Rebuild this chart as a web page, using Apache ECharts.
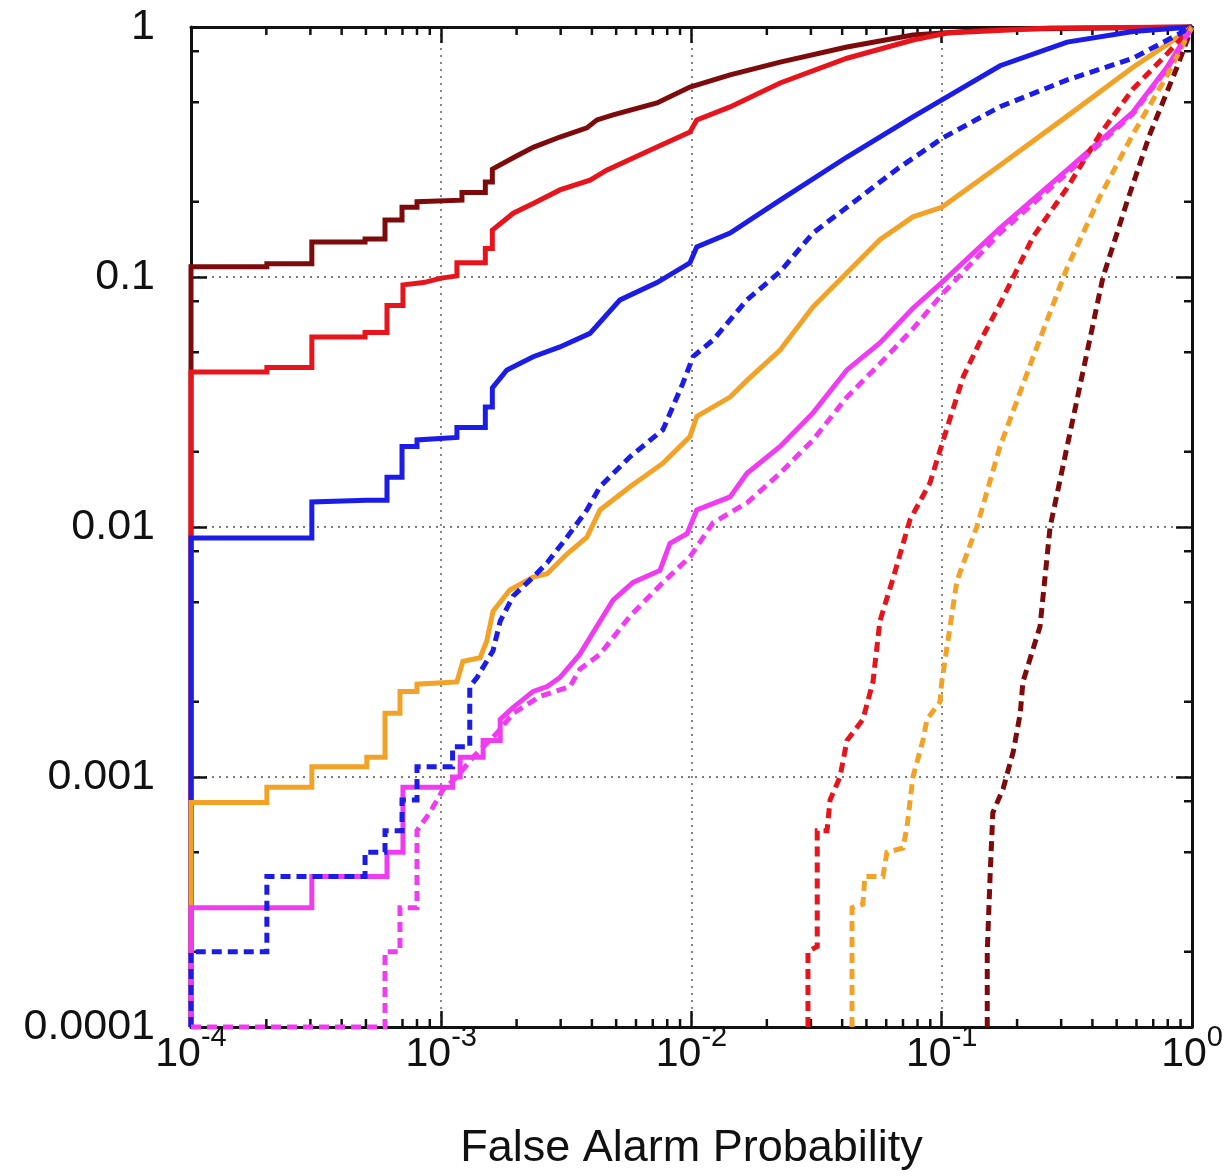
<!DOCTYPE html>
<html>
<head>
<meta charset="utf-8">
<script src="https://cdn.jsdelivr.net/npm/echarts@6/dist/echarts.min.js"></script>
<style>
html,body{margin:0;padding:0;background:#fff;}
#chart{width:1228px;height:1176px;}
</style>
</head>
<body>
<div id="chart"></div>
<script>
// ---------------- data ----------------
const xExpLabels = ['-4', '-3', '-2', '-1', '0'];
const yTickLabels = ['0.0001', '0.001', '0.01', '0.1', '1'];
const xAxisTitle = 'False Alarm Probability';

const decades = [-4, -3, -2, -1];
const xMinorMultipliers = [2, 3, 4, 5, 6, 7, 8, 9];
const yMinorMultipliers = [2, 5, 8];

const darkRedSolid = [
  [1e-4,1e-4],[1e-4,0.11],[2.01e-4,0.11],[2.01e-4,0.113],[3.04e-4,0.113],[3.04e-4,0.138],
  [4.96e-4,0.138],[4.96e-4,0.142],[5.96e-4,0.142],[5.96e-4,0.169],[6.97e-4,0.169],[6.97e-4,0.19],
  [8.0e-4,0.19],[8.0e-4,0.2],[1.21e-3,0.203],[1.21e-3,0.218],[1.5e-3,0.218],[1.5e-3,0.24],
  [1.6e-3,0.24],[1.6e-3,0.27],[1.94e-3,0.30],[2.33e-3,0.33],[2.98e-3,0.363],[3.82e-3,0.395],
  [4.19e-3,0.425],[4.86e-3,0.445],[7.28e-3,0.497],[9.86e-3,0.575],[0.01426,0.643],[0.0226,0.724],
  [0.0418,0.832],[0.0767,0.929],[0.171,0.98],[1,1]
];
const redSolid = [
  [1e-4,1e-4],[1e-4,0.0417],[2.01e-4,0.0417],[2.01e-4,0.0435],[3.04e-4,0.0435],[3.04e-4,0.0575],
  [4.96e-4,0.0575],[4.96e-4,0.06],[6.07e-4,0.06],[6.07e-4,0.077],[7.03e-4,0.077],[7.03e-4,0.093],
  [8.5e-4,0.095],[1.0e-3,0.099],[1.155e-3,0.101],[1.155e-3,0.114],[1.5e-3,0.114],[1.5e-3,0.13],
  [1.6e-3,0.13],[1.6e-3,0.154],[1.94e-3,0.18],[2.33e-3,0.197],[2.98e-3,0.223],[3.93e-3,0.244],
  [4.6e-3,0.268],[7.28e-3,0.331],[9.86e-3,0.38],[0.0105,0.425],[0.01426,0.479],[0.0226,0.597],
  [0.0418,0.75],[0.0767,0.887],[0.105,0.946],[0.271,0.99],[1,1]
];
const blueSolid = [
  [1e-4,1e-4],[1e-4,0.00904],[3.04e-4,0.00904],[3.04e-4,0.0126],[5.04e-4,0.0128],[6.07e-4,0.0128],
  [6.07e-4,0.0158],[6.97e-4,0.0158],[6.97e-4,0.021],[8.0e-4,0.021],[8.0e-4,0.0223],[1.155e-3,0.0228],
  [1.155e-3,0.025],[1.5e-3,0.025],[1.5e-3,0.0302],[1.6e-3,0.0302],[1.6e-3,0.036],[1.83e-3,0.0425],
  [2.33e-3,0.048],[2.98e-3,0.0525],[3.93e-3,0.0595],[5.18e-3,0.081],[7.28e-3,0.095],[9.86e-3,0.114],
  [0.0105,0.132],[0.01426,0.15],[0.0226,0.203],[0.0418,0.302],[0.0767,0.437],[0.105,0.525],
  [0.171,0.70],[0.317,0.87],[0.581,0.96],[1,1]
];
const orangeSolid = [
  [1e-4,1e-4],[1e-4,7.9e-4],[2.01e-4,7.9e-4],[2.01e-4,9.1e-4],[3.04e-4,9.1e-4],[3.04e-4,1.1e-3],
  [5.04e-4,1.1e-3],[5.04e-4,1.2e-3],[5.96e-4,1.2e-3],[5.96e-4,1.8e-3],[6.84e-4,1.8e-3],[6.84e-4,2.2e-3],
  [8.0e-4,2.2e-3],[8.0e-4,2.35e-3],[1.155e-3,2.4e-3],[1.22e-3,2.9e-3],[1.43e-3,3.0e-3],[1.52e-3,3.5e-3],
  [1.61e-3,4.6e-3],[1.88e-3,5.6e-3],[2.33e-3,6.3e-3],[2.65e-3,6.5e-3],[3.18e-3,7.8e-3],[3.82e-3,9.1e-3],
  [4.31e-3,0.0117],[5.68e-3,0.0145],[7.69e-3,0.018],[9.86e-3,0.023],[0.0105,0.0277],[0.01426,0.0331],
  [0.01667,0.0386],[0.0226,0.051],[0.0306,0.076],[0.0418,0.104],[0.0566,0.141],[0.0767,0.174],
  [0.1,0.19],[0.171,0.28],[0.317,0.44],[0.581,0.69],[0.794,0.85],[1,1]
];
const magentaSolid = [
  [1e-4,1e-4],[1e-4,3.0e-4],[3.04e-4,3.0e-4],[3.04e-4,4.0e-4],[6.07e-4,4.0e-4],[6.07e-4,5e-4],
  [7.03e-4,5e-4],[7.03e-4,9.1e-4],[1.11e-3,9.1e-4],[1.11e-3,1.0e-3],[1.19e-3,1.0e-3],[1.19e-3,1.2e-3],
  [1.47e-3,1.2e-3],[1.47e-3,1.4e-3],[1.72e-3,1.4e-3],[1.72e-3,1.7e-3],[1.94e-3,1.9e-3],[2.33e-3,2.2e-3],
  [2.65e-3,2.3e-3],[2.98e-3,2.5e-3],[3.58e-3,3.1e-3],[4.31e-3,4.2e-3],[4.86e-3,5.1e-3],[5.84e-3,6.0e-3],
  [7.48e-3,6.7e-3],[8.2e-3,8.6e-3],[9.6e-3,9.4e-3],[0.0105,0.0117],[0.01426,0.0132],[0.01667,0.0164],
  [0.0226,0.021],[0.0306,0.0286],[0.0418,0.0425],[0.0566,0.0545],[0.0767,0.075],[0.1,0.095],
  [0.171,0.157],[0.317,0.268],[0.581,0.457],[0.794,0.69],[1,1]
];
const darkRedDashed = [
  [0.152,1e-4],[0.152,2e-4],[0.156,4e-4],[0.160,7.2e-4],[0.176,9e-4],[0.193,1.26e-3],[0.206,1.8e-3],
  [0.211,2.4e-3],[0.247,4e-3],[0.271,0.01],[0.317,0.021],[0.367,0.042],[0.441,0.1],[0.55,0.2],
  [0.679,0.373],[0.871,0.69],[1,1]
];
const redDashed = [
  [0.0292,1e-4],[0.0292,2.0e-4],[0.0318,2.1e-4],[0.0318,6.1e-4],[0.0348,6.1e-4],[0.0358,8.1e-4],
  [0.0392,1e-3],[0.0418,1.4e-3],[0.0484,1.7e-3],[0.0531,2.4e-3],[0.0566,4.2e-3],[0.0638,6.2e-3],
  [0.0747,0.0107],[0.0897,0.015],[0.101,0.022],[0.122,0.04],[0.142,0.055],[0.171,0.078],
  [0.232,0.145],[0.317,0.227],[0.429,0.373],[0.581,0.565],[0.794,0.78],[1,1]
];
const orangeDashed = [
  [0.0438,1e-4],[0.0438,3e-4],[0.0484,3.1e-4],[0.0493,4e-4],[0.0582,4e-4],[0.0604,5e-4],[0.07,5.2e-4],
  [0.0726,6.3e-4],[0.0767,1e-3],[0.0841,1.4e-3],[0.0873,1.7e-3],[0.0984,2e-3],[0.1,2.4e-3],
  [0.115,6.1e-3],[0.138,0.01],[0.171,0.021],[0.232,0.048],[0.317,0.109],[0.429,0.21],[0.581,0.373],
  [0.794,0.637],[1,1]
];
const blueDashed = [
  [1e-4,1e-4],[1e-4,2e-4],[2.01e-4,2e-4],[2.01e-4,4.0e-4],[4.96e-4,4.0e-4],[4.96e-4,5e-4],[5.96e-4,5e-4],
  [5.96e-4,6.1e-4],[6.97e-4,6.1e-4],[6.97e-4,8.1e-4],[8.0e-4,8.1e-4],[8.0e-4,1.1e-3],[1.11e-3,1.1e-3],
  [1.11e-3,1.32e-3],[1.30e-3,1.32e-3],[1.30e-3,2.3e-3],[1.39e-3,2.5e-3],[1.61e-3,3.2e-3],[1.72e-3,4.2e-3],
  [1.94e-3,5.3e-3],[2.33e-3,6.3e-3],[2.65e-3,7.2e-3],[3.18e-3,9.1e-3],[3.82e-3,0.0117],[4.31e-3,0.0145],
  [5.68e-3,0.0191],[7.69e-3,0.0245],[9.25e-3,0.0377],[0.01014,0.048],[0.0122,0.056],[0.01667,0.081],
  [0.0226,0.105],[0.0306,0.15],[0.0418,0.19],[0.0662,0.27],[0.101,0.36],[0.171,0.48],[0.317,0.614],
  [0.581,0.75],[1,1]
];
const magentaDashed = [
  [1e-4,1e-4],[5.96e-4,1e-4],[5.96e-4,2e-4],[6.84e-4,2e-4],[6.84e-4,3e-4],[8.0e-4,3e-4],[8.0e-4,6.1e-4],
  [9e-4,7.2e-4],[1.016e-3,8.9e-4],[1.155e-3,1e-3],[1.34e-3,1.2e-3],[1.67e-3,1.5e-3],[1.94e-3,1.8e-3],
  [2.48e-3,2.1e-3],[3.27e-3,2.3e-3],[3.58e-3,2.7e-3],[4.31e-3,3.1e-3],[5.68e-3,4.4e-3],[7.69e-3,6e-3],
  [9.86e-3,7.6e-3],[0.0122,0.0104],[0.01667,0.0125],[0.0226,0.0164],[0.0306,0.0223],[0.0418,0.0331],
  [0.0566,0.045],[0.0767,0.062],[0.1,0.085],[0.171,0.15],[0.317,0.26],[0.581,0.45],[0.794,0.68],[1,1]
];

// ---------------- styling ----------------
const FONT = '"Liberation Sans", Arial, Helvetica, sans-serif';
const C = {
  darkred: '#7d0b0b',
  red: '#e8141c',
  blue: '#1c1ce8',
  orange: '#f2a227',
  magenta: '#f03cf0'
};
const LW = 5;
const DASH = [10, 6];

const xMinor = [];
decades.forEach(d => xMinorMultipliers.forEach(m => xMinor.push([m * Math.pow(10, d), 0.01])));
const yMinor = [];
decades.forEach(d => yMinorMultipliers.forEach(m => yMinor.push([0.01, m * Math.pow(10, d)])));

function lineSeries(name, data, color, dashed) {
  return {
    name, type: 'line', data, showSymbol: false, symbol: 'none', clip: false,
    lineStyle: { color, width: LW, type: dashed ? DASH : 'solid', cap: 'butt', join: 'miter' },
    animation: false, z: 3
  };
}

const tickStyle = { stroke: '#111', lineWidth: 2.5 };
const MINOR_LEN = 8;

const baseLog = { type: 'log', logBase: 10, min: 1e-4, max: 1 };
const gridLineStyle = { color: '#7a7a7a', width: 1.8, type: [2, 5] };

const option = {
  backgroundColor: '#fff',
  animation: false,
  grid: { left: 191, right: 36, top: 27, bottom: 149, containLabel: false },
  xAxis: [
    Object.assign({}, baseLog, {
      position: 'bottom',
      axisLine: { show: true, onZero: false, lineStyle: { color: '#111', width: 3 } },
      axisTick: { show: true, inside: true, length: 16, lineStyle: { color: '#111', width: 2.5 } },
      minorTick: { show: false },
      splitLine: { show: true, lineStyle: gridLineStyle },
      axisLabel: {
        margin: -4,
        formatter: v => {
          const e = Math.round(Math.log10(v));
          return '{b|10}{s|' + xExpLabels[e + 4] + '}';
        },
        rich: {
          b: { fontSize: 41, fontFamily: FONT, color: '#111', lineHeight: 52, verticalAlign: 'bottom' },
          s: { fontSize: 29, fontFamily: FONT, color: '#111', lineHeight: 10, verticalAlign: 'top' }
        }
      },
      name: xAxisTitle,
      nameLocation: 'middle',
      nameGap: 99,
      nameTextStyle: { fontSize: 45, fontFamily: FONT, color: '#111' }
    }),
    Object.assign({}, baseLog, {
      position: 'top',
      axisLine: { show: true, onZero: false, lineStyle: { color: '#111', width: 3 } },
      axisTick: { show: true, inside: true, length: 16, lineStyle: { color: '#111', width: 2.5 } },
      splitLine: { show: false },
      axisLabel: { show: false }
    })
  ],
  yAxis: [
    Object.assign({}, baseLog, {
      position: 'left',
      axisLine: { show: true, onZero: false, lineStyle: { color: '#111', width: 3 } },
      axisTick: { show: true, inside: true, length: 16, lineStyle: { color: '#111', width: 2.5 } },
      splitLine: { show: true, lineStyle: gridLineStyle },
      axisLabel: {
        margin: 36,
        fontSize: 43, fontFamily: FONT, color: '#111',
        formatter: v => {
          const e = Math.round(Math.log10(v));
          return yTickLabels[e + 4];
        }
      }
    }),
    Object.assign({}, baseLog, {
      position: 'right',
      axisLine: { show: true, onZero: false, lineStyle: { color: '#111', width: 3 } },
      axisTick: { show: true, inside: true, length: 16, lineStyle: { color: '#111', width: 2.5 } },
      splitLine: { show: false },
      axisLabel: { show: false }
    })
  ],
  series: [
    {
      type: 'custom', name: 'xMinorTicks', data: xMinor, z: 1, silent: true,
      renderItem: (params, api) => {
        const cs = params.coordSys;
        const p = api.coord([api.value(0), api.value(1)]);
        return {
          type: 'group', children: [
            { type: 'line', shape: { x1: p[0], y1: cs.y, x2: p[0], y2: cs.y + MINOR_LEN }, style: tickStyle },
            { type: 'line', shape: { x1: p[0], y1: cs.y + cs.height, x2: p[0], y2: cs.y + cs.height - MINOR_LEN }, style: tickStyle }
          ]
        };
      }
    },
    {
      type: 'custom', name: 'yMinorTicks', data: yMinor, z: 1, silent: true,
      renderItem: (params, api) => {
        const cs = params.coordSys;
        const p = api.coord([api.value(0), api.value(1)]);
        return {
          type: 'group', children: [
            { type: 'line', shape: { x1: cs.x, y1: p[1], x2: cs.x + MINOR_LEN, y2: p[1] }, style: tickStyle },
            { type: 'line', shape: { x1: cs.x + cs.width, y1: p[1], x2: cs.x + cs.width - MINOR_LEN, y2: p[1] }, style: tickStyle }
          ]
        };
      }
    },
    lineSeries('darkred solid', darkRedSolid, C.darkred, false),
    lineSeries('red solid', redSolid, C.red, false),
    lineSeries('blue solid', blueSolid, C.blue, false),
    lineSeries('orange solid', orangeSolid, C.orange, false),
    lineSeries('magenta solid', magentaSolid, C.magenta, false),
    lineSeries('darkred dashed', darkRedDashed, C.darkred, true),
    lineSeries('red dashed', redDashed, C.red, true),
    lineSeries('orange dashed', orangeDashed, C.orange, true),
    lineSeries('blue dashed', blueDashed, C.blue, true),
    lineSeries('magenta dashed', magentaDashed, C.magenta, true)
  ]
};

const chart = echarts.init(document.getElementById('chart'), null, { renderer: 'canvas' });
chart.setOption(option);
</script>
</body>
</html>
